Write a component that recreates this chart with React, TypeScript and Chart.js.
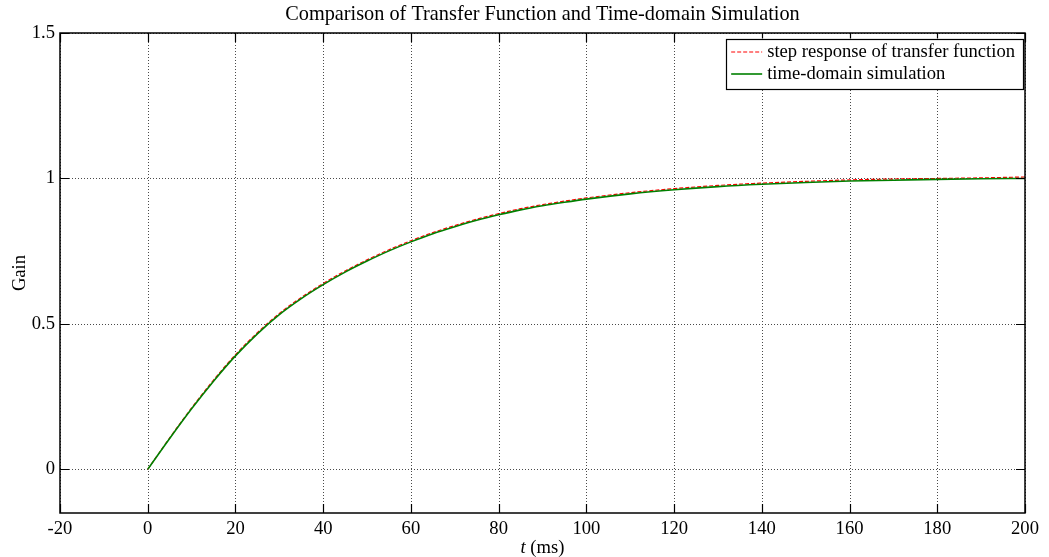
import React, { useEffect, useRef } from "react";
import { Chart, registerables } from "chart.js";

Chart.register(...registerables);

// ---- data ----
const T_MS = [0, 5, 10, 15, 20, 25, 30, 35, 40, 45, 50, 55, 60, 65, 70, 75, 80, 85, 90, 95, 100, 110, 120, 130, 140, 150, 160, 170, 180, 190, 200];
const TF_STEP = [0, 0.108, 0.211, 0.307, 0.394, 0.47, 0.536, 0.591, 0.639, 0.682, 0.72, 0.755, 0.786, 0.814, 0.838, 0.86, 0.879, 0.896, 0.91, 0.922, 0.933, 0.951, 0.965, 0.976, 0.984, 0.99, 0.995, 0.998, 1.0, 1.002, 1.005];
const SIM = [0, 0.106, 0.208, 0.303, 0.39, 0.466, 0.532, 0.587, 0.635, 0.678, 0.716, 0.751, 0.782, 0.81, 0.834, 0.856, 0.875, 0.892, 0.906, 0.918, 0.929, 0.947, 0.961, 0.972, 0.98, 0.986, 0.991, 0.994, 0.997, 0.999, 1.0];

const SERIES_LABELS = ["step response of transfer function", "time-domain simulation"];
const X_TICKS = [-20, 0, 20, 40, 60, 80, 100, 120, 140, 160, 180, 200];
const Y_TICKS = [0, 0.5, 1, 1.5];
const Y_TICK_LABELS = ["0", "0.5", "1", "1.5"];
const X_RANGE = [-20, 200];
const Y_RANGE = [-0.15, 1.5];
const TITLE = "Comparison of Transfer Function and Time-domain Simulation";
const X_LABEL_ITALIC = "t";
const X_LABEL_REST = " (ms)";
const Y_LABEL = "Gain";

const FONT_FAMILY = '"Liberation Serif", "Times New Roman", serif';
const FS = 18.6;
const TITLE_FS = 20.3;

const decorPlugin = {
  id: "matlabDecor",
  beforeDatasetsDraw(chart: any) {
    const { ctx, chartArea: a, scales } = chart;
    const xs = scales.x, ys = scales.y;
    ctx.save();
    ctx.strokeStyle = "#4a4a4a";
    ctx.lineWidth = 1;
    ctx.setLineDash([1, 2]);
    X_TICKS.forEach((v) => {
      const px = Math.round(xs.getPixelForValue(v)) + 0.5;
      ctx.beginPath();
      ctx.moveTo(px, a.top);
      ctx.lineTo(px, a.bottom);
      ctx.stroke();
    });
    Y_TICKS.forEach((v) => {
      const py = Math.round(ys.getPixelForValue(v)) + 0.5;
      ctx.beginPath();
      ctx.moveTo(a.left, py);
      ctx.lineTo(a.right, py);
      ctx.stroke();
    });
    ctx.restore();
  },
  afterDatasetsDraw(chart: any) {
    const { ctx, chartArea: a, scales } = chart;
    const xs = scales.x, ys = scales.y;
    ctx.save();
    // frame
    ctx.setLineDash([]);
    ctx.strokeStyle = "#000";
    ctx.lineWidth = 1.5;
    ctx.strokeRect(a.left, a.top, a.right - a.left, a.bottom - a.top);
    // inward ticks
    const TL = 9;
    ctx.lineWidth = 1.2;
    X_TICKS.forEach((v) => {
      const px = Math.round(xs.getPixelForValue(v)) + 0.5;
      ctx.beginPath();
      ctx.moveTo(px, a.bottom);
      ctx.lineTo(px, a.bottom - TL);
      ctx.moveTo(px, a.top);
      ctx.lineTo(px, a.top + TL);
      ctx.stroke();
    });
    Y_TICKS.forEach((v) => {
      const py = Math.round(ys.getPixelForValue(v)) + 0.5;
      ctx.beginPath();
      ctx.moveTo(a.left, py);
      ctx.lineTo(a.left + TL, py);
      ctx.moveTo(a.right, py);
      ctx.lineTo(a.right - TL, py);
      ctx.stroke();
    });

    // legend
    ctx.font = `${FS}px ${FONT_FAMILY}`;
    const ds = chart.data.datasets;
    const maxW = Math.max(...ds.map((d: any) => ctx.measureText(d.label).width));
    const boxW = maxW + 49;
    const boxH = 50;
    const bx = a.right - 2 - boxW;
    const by = a.top + 5.5;
    ctx.fillStyle = "#fff";
    ctx.fillRect(bx, by, boxW, boxH);
    ctx.strokeStyle = "#000";
    ctx.lineWidth = 1.2;
    ctx.strokeRect(Math.round(bx) + 0.5, Math.round(by) + 0.5, Math.round(boxW), boxH);
    ds.forEach((d: any, i: number) => {
      const ly = by + 13.5 + i * 22;
      ctx.beginPath();
      ctx.strokeStyle = d.borderColor;
      ctx.lineWidth = d.borderWidth;
      ctx.setLineDash(d.borderDash || []);
      ctx.moveTo(bx + 5, ly);
      ctx.lineTo(bx + 36, ly);
      ctx.stroke();
      ctx.setLineDash([]);
      ctx.fillStyle = "#000";
      ctx.textAlign = "left";
      ctx.textBaseline = "middle";
      ctx.fillText(d.label, bx + 41, ly);
    });

    // title
    const cx = (a.left + a.right) / 2;
    ctx.fillStyle = "#000";
    ctx.textAlign = "center";
    ctx.textBaseline = "alphabetic";
    ctx.font = `${TITLE_FS}px ${FONT_FAMILY}`;
    ctx.fillText(TITLE, cx, 20);

    // x label with italic t
    ctx.font = `italic ${FS}px ${FONT_FAMILY}`;
    const w1 = ctx.measureText(X_LABEL_ITALIC).width;
    ctx.font = `${FS}px ${FONT_FAMILY}`;
    const w2 = ctx.measureText(X_LABEL_REST).width;
    const sx = cx - (w1 + w2) / 2;
    ctx.textAlign = "left";
    ctx.font = `italic ${FS}px ${FONT_FAMILY}`;
    ctx.fillText(X_LABEL_ITALIC, sx, 553);
    ctx.font = `${FS}px ${FONT_FAMILY}`;
    ctx.fillText(X_LABEL_REST, sx + w1, 553);

    // y label
    ctx.translate(25, (a.top + a.bottom) / 2);
    ctx.rotate(-Math.PI / 2);
    ctx.textAlign = "center";
    ctx.fillText(Y_LABEL, 0, 0);
    ctx.restore();
  },
};

export default function App() {
  const ref = useRef<HTMLCanvasElement | null>(null);
  useEffect(() => {
    document.body.style.margin = "0";
    const canvas = ref.current!;
    const chart = new Chart(canvas, {
      type: "line",
      data: {
        datasets: [
          {
            label: SERIES_LABELS[0],
            data: T_MS.map((t, i) => ({ x: t, y: TF_STEP[i] })),
            borderColor: "#ff0000",
            borderWidth: 1.2,
            borderDash: [4, 2],
            pointRadius: 0,
            cubicInterpolationMode: "monotone",
            fill: false,
            order: 1,
          },
          {
            label: SERIES_LABELS[1],
            data: T_MS.map((t, i) => ({ x: t, y: SIM[i] })),
            borderColor: "#008000",
            borderWidth: 1.6,
            pointRadius: 0,
            cubicInterpolationMode: "monotone",
            fill: false,
            order: 0,
          },
        ],
      },
      options: {
        responsive: false,
        animation: false,
        devicePixelRatio: 1,
        layout: { padding: { left: 0, top: 33, right: 24, bottom: 0 } },
        plugins: { legend: { display: false }, title: { display: false }, tooltip: { enabled: false } },
        scales: {
          x: {
            type: "linear",
            min: X_RANGE[0],
            max: X_RANGE[1],
            afterBuildTicks: (s: any) => { s.ticks = X_TICKS.map((v) => ({ value: v })); },
            afterFit: (s: any) => { s.height = 44; },
            grid: { display: false, drawTicks: false },
            border: { display: false },
            ticks: {
              color: "#000",
              font: { family: FONT_FAMILY, size: FS },
              padding: 5,
              maxRotation: 0,
              autoSkip: false,
              callback: (v: any) => String(v),
            },
          },
          y: {
            type: "linear",
            min: Y_RANGE[0],
            max: Y_RANGE[1],
            afterBuildTicks: (s: any) => { s.ticks = Y_TICKS.map((v) => ({ value: v })); },
            afterFit: (s: any) => { s.width = 60; },
            grid: { display: false, drawTicks: false },
            border: { display: false },
            ticks: {
              color: "#000",
              font: { family: FONT_FAMILY, size: FS },
              padding: 5,
              autoSkip: false,
              callback: (v: any) => {
                const i = Y_TICKS.indexOf(Number(v));
                return i >= 0 ? Y_TICK_LABELS[i] : "";
              },
            },
          },
        },
      },
      plugins: [decorPlugin],
    } as any);
    return () => chart.destroy();
  }, []);
  return (
    <div style={{ position: "absolute", left: 0, top: 0, width: 1049, height: 557, background: "#fff" }}>
      <canvas ref={ref} width={1049} height={557} style={{ width: 1049, height: 557, display: "block" }} />
    </div>
  );
}
